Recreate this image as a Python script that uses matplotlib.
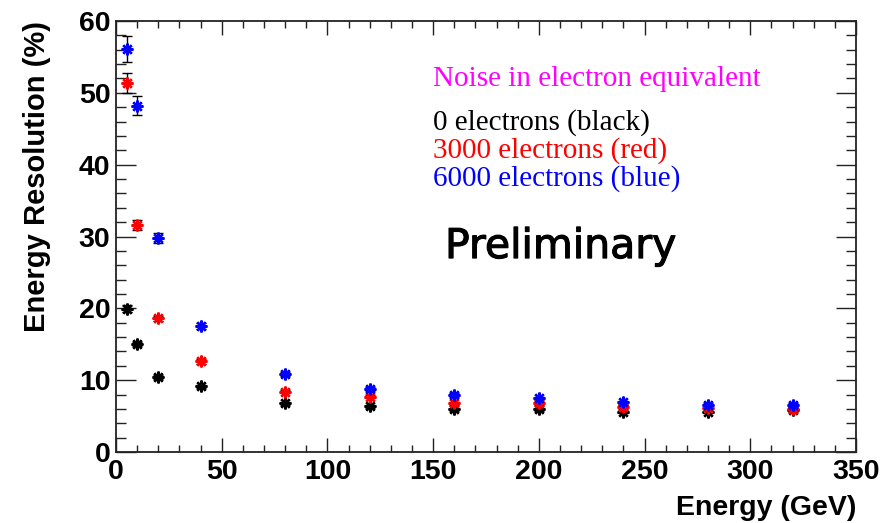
import matplotlib
matplotlib.use("Agg")
import matplotlib.pyplot as plt
import matplotlib.patheffects as pe
from matplotlib.ticker import MultipleLocator

# Beam energies (GeV) and measured resolution (%) for each noise level
energy = [5, 10, 20, 40, 80, 120, 160, 200, 240, 280, 320]

res_0e = [19.95, 15.0, 10.45, 9.15, 6.75, 6.35, 5.95, 5.95, 5.6, 5.6, 5.8]
err_0e = [0.5, 0.3, 0.25, 0.2, 0.2, 0.2, 0.2, 0.2, 0.2, 0.2, 0.2]

res_3000e = [51.4, 31.6, 18.6, 12.6, 8.4, 7.7, 6.75, 6.8, 6.3, 6.15, 6.05]
err_3000e = [1.4, 0.75, 0.35, 0.3, 0.25, 0.2, 0.2, 0.2, 0.2, 0.2, 0.2]

res_6000e = [56.1, 48.2, 29.8, 17.55, 10.9, 8.8, 7.9, 7.45, 6.9, 6.6, 6.6]
err_6000e = [1.8, 1.3, 0.7, 0.4, 0.3, 0.25, 0.25, 0.25, 0.25, 0.25, 0.25]

series = [
    (res_0e, err_0e, "black"),
    (res_3000e, err_3000e, "#ff0000"),
    (res_6000e, err_6000e, "#0000ff"),
]

fig = plt.figure(figsize=(8.85, 5.23), dpi=100)
ax = fig.add_axes([0.1311, 0.1358, 0.8361, 0.8240])

star = (8, 2, 0)
for vals, errs, col in series:
    ax.errorbar(energy, vals, yerr=errs, fmt="none", ecolor="black",
                elinewidth=1.0, capsize=3.5, capthick=1.0, zorder=2)
    ax.plot(energy, vals, linestyle="none", marker=star, markersize=8.5,
            markeredgewidth=1.7, color=col, zorder=3)

ax.set_xlim(0, 350)
ax.set_ylim(0, 60)

ax.xaxis.set_major_locator(MultipleLocator(50))
ax.xaxis.set_minor_locator(MultipleLocator(10))
ax.yaxis.set_major_locator(MultipleLocator(10))
ax.yaxis.set_minor_locator(MultipleLocator(2))

for side in ax.spines.values():
    side.set_linewidth(1.3)
    side.set_color("#222222")

ax.tick_params(axis="both", which="both", direction="in", top=True, right=True,
               color="#222222", width=1.0)
ax.tick_params(axis="x", which="major", length=10, pad=5)
ax.tick_params(axis="x", which="minor", length=5)
ax.tick_params(axis="y", which="major", length=14.5, pad=4)
ax.tick_params(axis="y", which="minor", length=7.2)

for lab in ax.get_xticklabels() + ax.get_yticklabels():
    lab.set_fontfamily("Liberation Sans")
    lab.set_fontweight("bold")
    lab.set_fontsize(20.5)

ax.set_xlabel("Energy (GeV)", fontfamily="Liberation Sans", fontweight="bold",
              fontsize=20.5, loc="right", labelpad=7)
ax.set_ylabel("Energy Resolution (%)", fontfamily="Liberation Sans",
              fontweight="bold", fontsize=21, loc="top", labelpad=20)

# Legend-style annotation block
serif = "Liberation Serif"
ax.text(0.4284, 0.849, "Noise in electron equivalent", transform=ax.transAxes,
        color="#ff00ff", fontsize=21, fontfamily=serif, va="baseline")
ax.text(0.4284, 0.749, "0 electrons (black)", transform=ax.transAxes,
        color="black", fontsize=21, fontfamily=serif, va="baseline")
ax.text(0.4284, 0.683, "3000 electrons (red)", transform=ax.transAxes,
        color="#ff0000", fontsize=21, fontfamily=serif, va="baseline")
ax.text(0.4284, 0.618, "6000 electrons (blue)", transform=ax.transAxes,
        color="#0000ff", fontsize=21, fontfamily=serif, va="baseline")

ax.text(0.4446, 0.450, "Preliminary", transform=ax.transAxes, color="black",
        fontsize=29.5, fontfamily="DejaVu Sans", va="baseline",
        path_effects=[pe.withStroke(linewidth=0.8, foreground="black")])

fig.savefig("out.png", dpi=100)
